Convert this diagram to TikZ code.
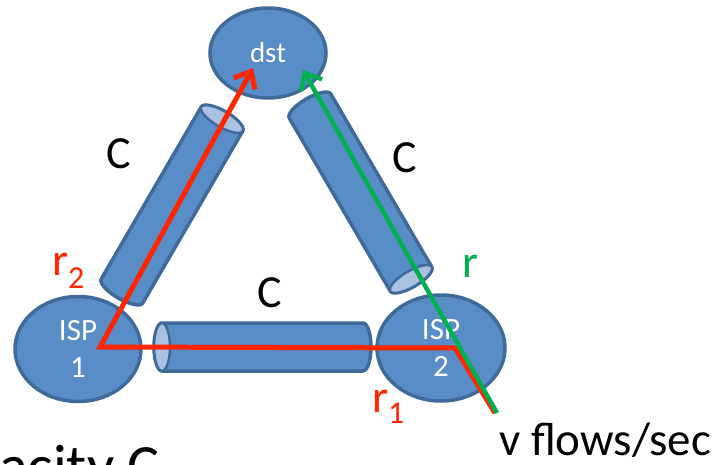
\documentclass[tikz,border=0pt]{standalone}
\usepackage{fontspec}
\setmainfont{Carlito}
\usetikzlibrary{arrows.meta,shapes.geometric}
\definecolor{netblue}{RGB}{88,141,200}
\definecolor{netedge}{RGB}{64,106,154}
\definecolor{netface}{RGB}{170,194,226}
\definecolor{flowred}{RGB}{255,38,0}
\definecolor{flowgreen}{RGB}{0,176,80}
\tikzset{
  isp/.style={ellipse, fill=netblue, draw=netedge, line width=3.5pt, text=white, align=center, inner sep=0pt},
  pipe/.style={fill=netblue, draw=netedge, line width=3.5pt, line join=round},
  pipeface/.style={fill=netface, draw=netedge, line width=2.5pt},
  route/.style={line width=5pt, -{Straight Barb[length=14pt,width=24pt]}},
  lbl/.style={inner sep=0pt, font=\fontsize{46}{46}\selectfont},
}
\begin{document}
\begin{tikzpicture}[x=1pt, y=-1pt]
  \useasboundingbox (0,0) rectangle (722,465);
  \clip (0,0) rectangle (722,465);
  % links
  \foreach \fx/\fy/\ex/\ey in {162/347/363/347, 222/119/122/291, 411/279/310/106}{
    \pgfmathsetmacro\pang{atan2(\fy-\ey,\ex-\fx)}
    \pgfmathsetmacro\plen{veclen(\ex-\fx,\fy-\ey)}
    \begin{scope}[shift={(\fx,\fy)}, rotate=\pang]
      \filldraw[pipe] (0pt,24pt) -- (\plen pt,24pt) arc[start angle=90, end angle=-90, x radius=8pt, y radius=24pt]
        -- (0pt,-24pt) arc[start angle=270, end angle=90, x radius=8pt, y radius=24pt] -- cycle;
      \filldraw[pipeface] (0pt,0pt) ellipse[x radius=8pt, y radius=24pt];
    \end{scope}
  }
  % nodes
  \node[isp, minimum width=116pt, minimum height=90pt, font=\fontsize{29}{29}\selectfont] (dst) at (268,53) {\raisebox{-3pt}{dst}};
  \node[isp, minimum width=126pt, minimum height=105pt, font=\fontsize{31}{37}\selectfont] (isp1) at (78,349) {ISP\\1};
  \node[isp, minimum width=128pt, minimum height=106pt, font=\fontsize{31}{37}\selectfont] (isp2) at (441,348) {ISP\\2};
  % flows
  \coordinate (src) at (495,413);
  \coordinate (bend2) at (455,348);
  \coordinate (bend1) at (100,347);
  \coordinate (tipred) at (253,68);
  \coordinate (tipgreen) at (303,70);
  \draw[route, flowred] (src) -- (bend2) -- (bend1) -- (tipred);
  \draw[route, flowgreen, line width=4.5pt] ([xshift=2pt]src) -- (tipgreen);
  % labels
  \node[lbl, anchor=base] (capl) at (119,168) {C};
  \node[lbl, anchor=base] (capr) at (405,172) {C};
  \node[lbl, anchor=base] (caph) at (270,307) {C};
  \node[lbl, anchor=base west, text=flowred] (r2) at (52,275) {r\raisebox{-13pt}{\fontsize{32}{32}\selectfont 2}};
  \node[lbl, anchor=base west, text=flowgreen] (r) at (462,277) {r};
  \node[lbl, anchor=base west, text=flowred] (r1) at (372,412) {r\raisebox{-11pt}{\fontsize{32}{32}\selectfont 1}};
  \node[lbl, anchor=base west, font=\fontsize{47}{47}\selectfont] (rate) at (499,455) {v flows/sec};
  \node[inner sep=0pt, anchor=base east, font=\fontsize{60}{60}\selectfont] (cap) at (160,486) {Capacity C};
\end{tikzpicture}
\end{document}
